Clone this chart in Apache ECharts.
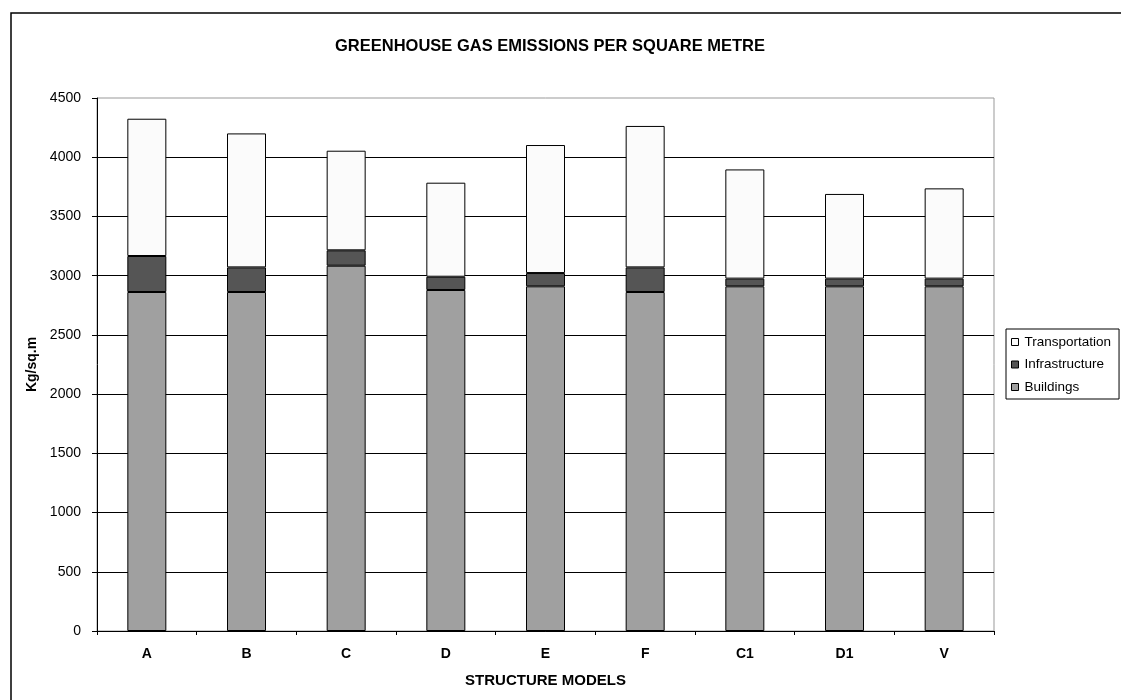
<!DOCTYPE html>
<html>
<head>
<meta charset="utf-8">
<script src="https://cdn.jsdelivr.net/npm/echarts@6/dist/echarts.min.js"></script>
<style>
  html, body { margin: 0; padding: 0; background: #fff; }
  #chart { width: 1121px; height: 700px; }
</style>
</head>
<body>
<div id="chart"></div>
<script>
// Structure models on the x axis
const models = ['A', 'B', 'C', 'D', 'E', 'F', 'C1', 'D1', 'V'];

// Emissions per component (kg per square metre), stacked bottom to top
const buildings      = [2862, 2862, 3084, 2879, 2910, 2862, 2910, 2910, 2910];
const infrastructure = [304, 208, 130, 112, 112, 208, 65, 65, 65];
const transportation = [1159, 1131, 841, 794, 1081, 1194, 922, 715, 762];

const yTicks = { min: 0, max: 4500, step: 500 };

const FONT = '"Liberation Sans", Arial, sans-serif';

const chart = echarts.init(document.getElementById('chart'), null, { renderer: 'canvas' });

function barSeries(name, data, color) {
  return {
    name: name,
    type: 'bar',
    stack: 'total',
    data: data,
    barWidth: 39,
    itemStyle: { color: color, borderColor: '#000', borderWidth: 1 },
    emphasis: { disabled: true }
  };
}

chart.setOption({
  animation: false,
  backgroundColor: '#fff',
  title: {
    text: 'GREENHOUSE GAS EMISSIONS PER SQUARE METRE',
    left: 545,
    textAlign: 'center',
    top: 33,
    textStyle: { fontFamily: FONT, fontSize: 16.5, fontWeight: 'bold', color: '#000' }
  },
  graphic: [{
    type: 'rect',
    shape: { x: 11, y: 13, width: 1200, height: 800 },
    style: { fill: 'none', stroke: '#000', lineWidth: 1.5 },
    silent: true,
    z: -1
  }],
  legend: {
    orient: 'vertical',
    left: 1006,
    top: 329,
    padding: [6, 8, 5, 5],
    itemGap: 8.5,
    itemWidth: 7,
    itemHeight: 7,
    icon: 'rect',
    borderColor: '#000',
    borderWidth: 1,
    data: ['Transportation', 'Infrastructure', 'Buildings'],
    textStyle: { fontFamily: FONT, fontSize: 13.5, color: '#000', padding: [0, 0, 0, 1] },
    itemStyle: { borderColor: '#000', borderWidth: 1 },
    selectedMode: false
  },
  grid: {
    left: 97,
    right: 127,
    top: 98,
    bottom: 69,
    show: true,
    borderColor: '#999',
    borderWidth: 1,
    containLabel: false
  },
  xAxis: {
    type: 'category',
    data: models,
    name: 'STRUCTURE MODELS',
    nameLocation: 'middle',
    nameGap: 42,
    nameTextStyle: { fontFamily: FONT, fontSize: 15, fontWeight: 'bold', color: '#000' },
    axisLine: { lineStyle: { color: '#000', width: 1 } },
    axisTick: { show: true, alignWithLabel: false, length: 4, lineStyle: { color: '#000' } },
    axisLabel: { fontFamily: FONT, fontSize: 14, fontWeight: 'bold', color: '#000', margin: 16 }
  },
  yAxis: {
    type: 'value',
    min: yTicks.min,
    max: yTicks.max,
    interval: yTicks.step,
    name: 'Kg/sq.m',
    nameLocation: 'middle',
    nameGap: 55,
    nameRotate: 90,
    nameTextStyle: { fontFamily: FONT, fontSize: 14, fontWeight: 'bold', color: '#000' },
    axisLine: { show: true, lineStyle: { color: '#000', width: 1 } },
    axisTick: { show: true, length: 5, lineStyle: { color: '#000' } },
    axisLabel: {
      fontFamily: FONT, fontSize: 14, color: '#000', margin: 16,
      formatter: function (v) { return String(v); }
    },
    splitLine: { show: true, showMaxLine: false, lineStyle: { color: '#000', width: 1 } }
  },
  series: [
    barSeries('Buildings', buildings, '#a0a0a0'),
    barSeries('Infrastructure', infrastructure, '#555555'),
    barSeries('Transportation', transportation, '#fbfbfb')
  ]
});
</script>
</body>
</html>
